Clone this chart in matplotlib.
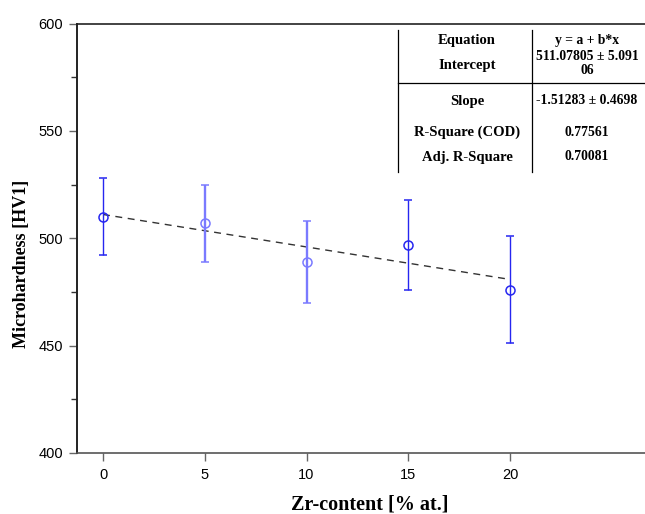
import matplotlib
matplotlib.use("Agg")
import matplotlib.pyplot as plt
from matplotlib.lines import Line2D

# data
zr_content = [0, 5, 10, 15, 20]
hardness = [510, 507, 489, 497, 476]
err = [18, 18, 19, 21, 25]
intercept = 511.07805
slope = -1.51283
x_ticks = [0, 5, 10, 15, 20]
y_ticks = [400, 450, 500, 550, 600]
table_left = ["Equation", "Intercept", "Slope", "R-Square (COD)", "Adj. R-Square"]
table_right = ["y = a + b*x", "511.07805 \u00b1 5.091\n06", "-1.51283 \u00b1 0.4698", "0.77561", "0.70081"]

W, H = 645, 514
fig = plt.figure(figsize=(W / 100, H / 100), dpi=100)
ax = fig.add_axes([77 / W, 1 - 453 / H, 1 - 77 / W, (453 - 23.5) / H])

colors = ['#2626f0', '#7a7aff', '#7a7aff', '#2626f0', '#2626f0']
widths = [1.0, 1.7, 1.7, 1.0, 1.0]
for xi, yi, ei, c, lw in zip(zr_content, hardness, err, colors, widths):
    ax.errorbar([xi], [yi], yerr=[ei], fmt='o', mfc='none', mec=c, ecolor=c,
                ms=6.5, mew=1.1, elinewidth=lw, capsize=2.9, capthick=lw, zorder=3)

fx = [zr_content[0], zr_content[-1]]
ax.plot(fx, [intercept + slope * v for v in fx], color='#333333', lw=1.0,
        dashes=(5, 4), zorder=2)

ax.set_xlim(-1.278, 26.63)
ax.set_ylim(400, 600)
ax.set_xticks(x_ticks)
ax.set_yticks(y_ticks)
ax.set_yticks([425, 475, 525, 575], minor=True)
ax.tick_params(axis='both', which='major', direction='out', length=6, width=1,
               color='#666666', labelsize=10.5, labelfontfamily='Liberation Sans')
ax.tick_params(axis='y', which='minor', direction='out', length=4, width=1, color='#333333')
ax.tick_params(axis='x', pad=5)
ax.tick_params(axis='y', pad=4)
ax.spines['right'].set_visible(False)
ax.spines['left'].set_linewidth(1.4)
ax.spines['left'].set_color('#222222')
ax.spines['top'].set_linewidth(1.2)
ax.spines['top'].set_color('#222222')
ax.spines['bottom'].set_linewidth(1.2)
ax.spines['bottom'].set_color('#555555')

def px(x, y):
    return x / W, 1 - y / H

fig.text(*px(22, 264), 'Microhardness [HV1]', fontsize=13, fontweight='bold',
         fontfamily='Liberation Serif', ha='center', va='center', rotation=90)
fig.text(*px(370, 509), 'Zr-content [% at.]', fontsize=14.5, fontweight='bold',
         fontfamily='Liberation Serif', ha='center', va='baseline')

# table lines
x0, y0 = px(398, 30)
x1, y1 = px(398, 172)
fig.add_artist(Line2D([x0, x1], [y0, y1], color='black', lw=0.9))
x0, y0 = px(532, 30)
x1, y1 = px(532, 172)
fig.add_artist(Line2D([x0, x1], [y0, y1], color='black', lw=0.9))
x0, y0 = px(398, 83)
x1, y1 = px(645, 83)
fig.add_artist(Line2D([x0, x1], [y0, y1], color='black', lw=0.9))

left_y = [41, 66, 101, 132, 157]
right_y = [41, 64, 101, 132, 157]
for t, yy in zip(table_left, left_y):
    fig.text(*px(467, yy), t, fontsize=10.5, fontweight='bold', fontfamily='Liberation Serif',
             ha='center', va='center')
for t, yy in zip(table_right, right_y):
    fig.text(*px(587, yy), t, fontsize=9.8, fontweight='bold', fontfamily='Liberation Serif',
             ha='center', va='center', linespacing=1.1)

fig.savefig('out.png', dpi=100)
